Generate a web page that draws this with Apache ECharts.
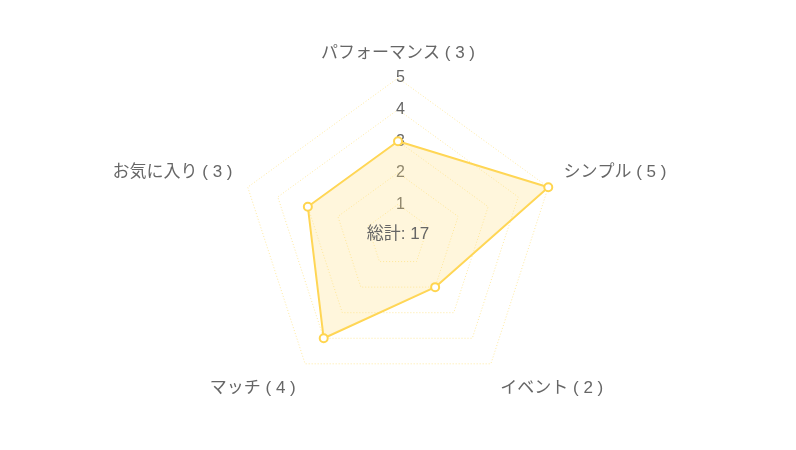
<!DOCTYPE html>
<html>
<head>
<meta charset="utf-8">
<style>
  html, body { margin: 0; padding: 0; background: #fff; }
  #chart-container { width: 796px; height: 450px; }
</style>
<script src="https://cdn.jsdelivr.net/npm/echarts@6/dist/echarts.min.js"></script>
</head>
<body>
<div id="chart-container"></div>
<script>
// clockwise order as seen in the chart, starting from the top
var indicatorNames = ['パフォーマンス', 'シンプル', 'イベント', 'マッチ', 'お気に入り'];
var scores = [3, 5, 2, 4, 3];
var maxScore = 5;
// where each name sits relative to its corner
var namePlace = ['top', 'side', 'bottom', 'bottom', 'side'];

var total = scores.reduce(function (a, b) { return a + b; }, 0);

// radar goes counter-clockwise, so flip everything after the first one
var order = [0, 4, 3, 2, 1];
var radarNames = order.map(function (i) { return indicatorNames[i]; });
var radarValues = order.map(function (i) { return scores[i]; });

var FONT = '"Liberation Sans", "Noto Sans CJK JP", sans-serif';
var nameText = { color: '#666', fontSize: 17, fontFamily: FONT };

var dom = document.getElementById('chart-container');
var myChart = echarts.init(dom, null, { renderer: 'canvas' });

var option = {
  animation: false,
  graphic: [
    {
      type: 'text',
      left: 'center',
      top: 226,
      z: 100,
      style: {
        text: '総計: ' + total,
        fontSize: 17,
        fill: '#666',
        fontFamily: FONT
      }
    }
  ],
  radar: {
    center: ['50%', 236],
    radius: 158,
    splitNumber: 5,
    nameGap: 16,
    axisName: {
      color: '#666',
      fontSize: 17,
      fontFamily: FONT,
      formatter: function (name) {
        var i = indicatorNames.indexOf(name);
        return '{' + namePlace[i] + '|' + name + ' ( ' + scores[i] + ' )}';
      },
      rich: {
        top: Object.assign({}, nameText),
        side: Object.assign({ padding: [0, 0, 20, 0] }, nameText),
        bottom: Object.assign({ padding: [23, 0, 0, 0] }, nameText)
      }
    },
    indicator: radarNames.map(function (n, i) {
      return i === 0
        ? { name: n, max: maxScore, min: 0, axisLabel: { show: true } }
        : { name: n, max: maxScore, min: 0 };
    }),
    axisLine: { show: false },
    axisTick: { show: false },
    axisLabel: {
      show: false,
      color: '#666',
      fontSize: 16,
      fontFamily: FONT,
      margin: -7,
      showMinLabel: false
    },
    splitArea: { show: false },
    splitLine: {
      lineStyle: { color: '#ffe9a0', type: [1, 2], width: 1 }
    }
  },
  series: [
    {
      type: 'radar',
      symbol: 'emptyCircle',
      symbolSize: 8,
      data: [
        {
          value: radarValues,
          name: 'score',
          itemStyle: { color: '#ffd54f' },
          lineStyle: { color: '#ffd54f', width: 2 },
          areaStyle: { color: 'rgba(255, 224, 130, 0.4)' }
        }
      ]
    }
  ]
};

myChart.setOption(option);
window.addEventListener('resize', myChart.resize);
</script>
</body>
</html>
